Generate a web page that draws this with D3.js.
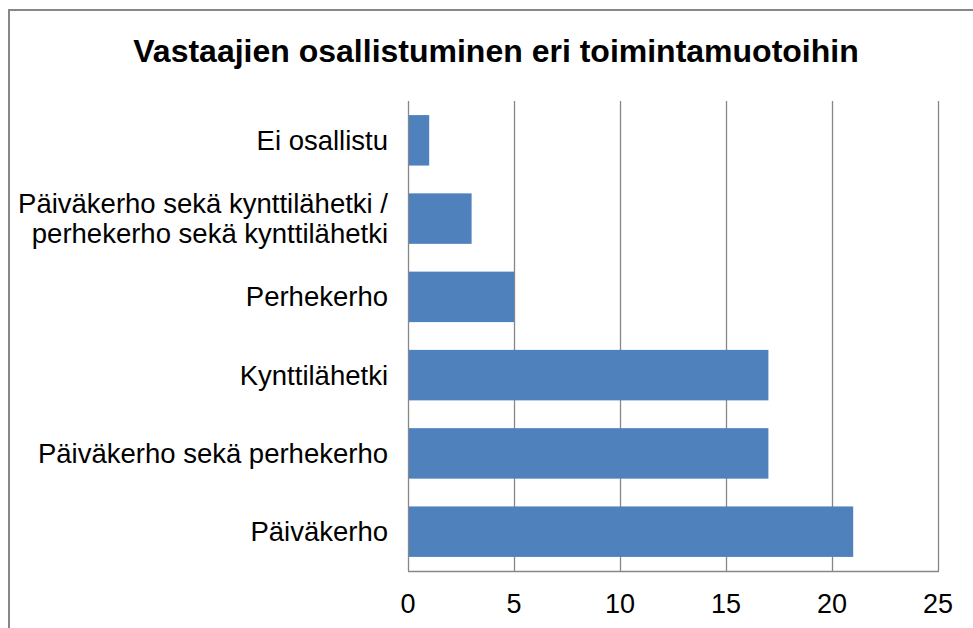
<!DOCTYPE html>
<html lang="fi">
<head>
    <meta charset="utf-8"/>
    <title>Vastaajien osallistuminen eri toimintamuotoihin</title>
    <script src="https://d3js.org/d3.v7.min.js"></script>
    <style>
        body { margin: 0; background: #fff; }
        text { font-family: "Liberation Sans", Arial, sans-serif; fill: #000; }
    </style>
</head>
<body>
<script>
// chart data
    var categories = [
        "Ei osallistu",
        "Päiväkerho sekä kynttilähetki / perhekerho sekä kynttilähetki",
        "Perhekerho",
        "Kynttilähetki",
        "Päiväkerho sekä perhekerho",
        "Päiväkerho"
    ];
    var values = [1, 3, 5, 17, 17, 21];
    var tickValues = [0, 5, 10, 15, 20, 25];
    // label lines for wrapped category names
    var labelLines = {
        "Päiväkerho sekä kynttilähetki / perhekerho sekä kynttilähetki":
            ["Päiväkerho sekä kynttilähetki /", "perhekerho sekä kynttilähetki"]
    };
    var title = "Vastaajien osallistuminen eri toimintamuotoihin";

// SVG measurements
    var w = 973;
    var h = 628;
    var plot = {left: 408, right: 938, top: 101, bottom: 571};

    var svg = d3.select("body")
                .append("svg")
                .attr("width", w)
                .attr("height", h);

// outer chart frame (runs off the right and bottom edge)
    svg.append("rect")
        .attr("x", 9)
        .attr("y", 10)
        .attr("width", w + 20)
        .attr("height", h + 20)
        .style("fill", "#fff")
        .style("stroke", "#878787")
        .style("stroke-width", 2);

    svg.append("text")
        .attr("x", 496)
        .attr("y", 62)
        .attr("text-anchor", "middle")
        .style("font-size", "32px")
        .style("font-weight", "bold")
        .text(title);

    var xScale = d3.scaleLinear()
                .domain([0, 25])
                .range([plot.left, plot.right]);

    var yScale = d3.scaleBand()
                .domain(categories)
                .range([plot.top, plot.bottom])
                .paddingInner(0.355)
                .paddingOuter(0.18);

// vertical gridlines
    svg.append("g")
        .selectAll("line")
        .data(tickValues)
        .enter()
        .append("line")
        .attr("x1", function(d) {return Math.round(xScale(d)) + 0.5;})
        .attr("x2", function(d) {return Math.round(xScale(d)) + 0.5;})
        .attr("y1", plot.top)
        .attr("y2", plot.bottom)
        .style("stroke", "#878787")
        .style("stroke-width", 1.3);

// bars
    svg.selectAll("rect.bar")
        .data(categories)
        .enter()
        .append("rect")
        .attr("class", "bar")
        .attr("x", xScale(0) + 1)
        .attr("y", function(d) {return yScale(d);})
        .attr("width", function(d, i) {return xScale(values[i]) - xScale(0) - 1;})
        .attr("height", yScale.bandwidth())
        .style("fill", "#4F81BD");

// bottom axis line
    svg.append("line")
        .attr("x1", plot.left)
        .attr("x2", plot.right + 1)
        .attr("y1", plot.bottom + 0.5)
        .attr("y2", plot.bottom + 0.5)
        .style("stroke", "#878787")
        .style("stroke-width", 1.3);

// x tick labels
    svg.append("g")
        .selectAll("text")
        .data(tickValues)
        .enter()
        .append("text")
        .attr("x", function(d) {return xScale(d);})
        .attr("y", 613)
        .attr("text-anchor", "middle")
        .style("font-size", "27px")
        .text(function(d) {return d;});

// category labels
    var labels = svg.append("g")
        .selectAll("text")
        .data(categories)
        .enter()
        .append("text")
        .attr("text-anchor", "end")
        .style("font-size", "27.5px");

    labels.each(function(d) {
        var lines = labelLines[d] || [d];
        var cy = yScale(d) + yScale.bandwidth() / 2;
        var lh = 30;
        var y0 = cy - (lines.length - 1) * lh / 2 + 9.5;
        var t = d3.select(this);
        lines.forEach(function(line, i) {
            t.append("tspan")
                .attr("x", 388)
                .attr("y", y0 + i * lh)
                .text(line);
        });
    });
</script>
</body>
</html>
